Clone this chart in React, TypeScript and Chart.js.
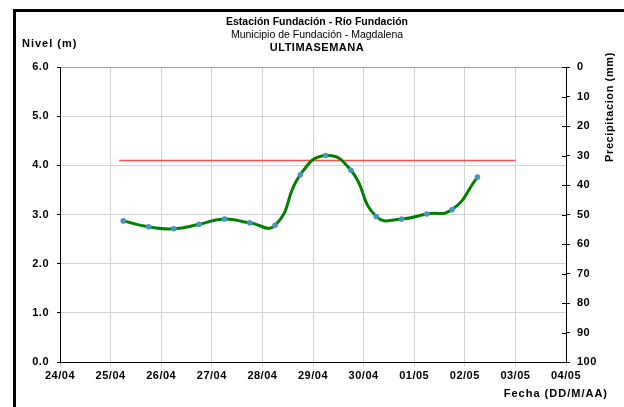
import React, { useEffect, useRef } from "react";
import { Chart, registerables } from "chart.js";

Chart.register(...registerables);

// Day tick labels (x axis = days since 24/04 00:00)
const dayLabels = ["24/04", "25/04", "26/04", "27/04", "28/04", "29/04", "30/04", "01/05", "02/05", "03/05", "04/05"];
// Observation times (days since 24/04 00:00)
const obsTimes = [1.25, 1.75, 2.25, 2.75, 3.25, 3.75, 4.25, 4.75, 5.25, 5.75, 6.25, 6.75, 7.25, 7.75, 8.25];
// River level (m)
const nivel = [2.87, 2.75, 2.71, 2.8, 2.91, 2.83, 2.78, 3.81, 4.2, 3.9, 2.96, 2.91, 3.01, 3.1, 3.76];
// Alert level line
const alertLevel = 4.1;
const alertRange = [1.17, 9.0];
// Precipitation axis range (mm, reversed)
const precipMin = 0;
const precipMax = 100;

const FONT = "'Liberation Sans', Arial, sans-serif";

const spacingPlugin = {
  id: "spacing",
  beforeLayout(chart: any) {
    chart.ctx.letterSpacing = "0.5px";
  },
  beforeDraw(chart: any) {
    chart.ctx.letterSpacing = "0.5px";
  },
};

const decorPlugin = {
  id: "decor",
  afterDraw(chart: any) {
    const ctx = chart.ctx;
    const y1 = chart.scales.y1;
    ctx.save();
    // inner tick marks of precipitation axis
    ctx.strokeStyle = "#000";
    ctx.lineWidth = 1;
    y1.ticks.forEach((t: any) => {
      const yy = Math.round(y1.getPixelForValue(t.value)) + 0.5;
      ctx.beginPath();
      ctx.moveTo(y1.left - 4, yy);
      ctx.lineTo(y1.left, yy);
      ctx.stroke();
    });
    // outer frame
    ctx.lineWidth = 3;
    ctx.strokeRect(14.5, 10.5, 800, 600);
    // texts
    ctx.fillStyle = "#000";
    ctx.textAlign = "center";
    ctx.textBaseline = "middle";
    const cx = 317;
    ctx.letterSpacing = "0px";
    ctx.font = `bold 10.5px ${FONT}`;
    ctx.fillText("Estación Fundación - Río Fundación", cx, 22);
    ctx.font = `10.5px ${FONT}`;
    ctx.fillText("Municipio de Fundación - Magdalena", cx, 35);
    ctx.letterSpacing = "0.5px";
    ctx.font = `bold 11px ${FONT}`;
    ctx.fillText("ULTIMASEMANA", cx, 48);
    ctx.letterSpacing = "1px";
    ctx.textAlign = "left";
    ctx.fillText("Nivel (m)", 22, 44);
    ctx.textAlign = "right";
    ctx.fillText("Fecha (DD/M/AA)", 608, 394);
    ctx.letterSpacing = "0.6px";
    ctx.translate(610, 107);
    ctx.rotate(-Math.PI / 2);
    ctx.textAlign = "center";
    ctx.fillText("Precipitacion (mm)", 0, 0);
    ctx.restore();
  },
};

export default function App() {
  const ref = useRef<HTMLCanvasElement>(null);
  useEffect(() => {
    if (!ref.current) return;
    const tickFont = { family: FONT, size: 11, weight: "bold" as const };
    const chart = new Chart(ref.current, {
      type: "line",
      data: {
        datasets: [
          {
            label: "Nivel",
            data: obsTimes.map((t, i) => ({ x: t, y: nivel[i] })),
            borderColor: "#008000",
            borderWidth: 3,
            backgroundColor: "#4a95c0",
            pointBackgroundColor: "#4a95c0",
            pointBorderWidth: 0,
            pointRadius: 2.8,
            tension: 0.5,
            yAxisID: "y",
          },
          {
            label: "Alerta",
            data: alertRange.map((t) => ({ x: t, y: alertLevel })),
            borderColor: "#ff4d4d",
            borderWidth: 1.5,
            pointRadius: 0,
            tension: 0,
            yAxisID: "y",
          },
        ],
      },
      options: {
        animation: false,
        responsive: false,
        layout: { padding: { left: 0, top: 67, right: 0, bottom: 0 } },
        plugins: { legend: { display: false }, title: { display: false }, tooltip: { enabled: false } },
        scales: {
          x: {
            type: "linear",
            min: 0,
            max: dayLabels.length - 1,
            ticks: {
              stepSize: 1,
              autoSkip: false,
              maxRotation: 0,
              padding: 3,
              color: "#000",
              font: tickFont,
              callback: (v: any) => dayLabels[Math.round(Number(v))] ?? "",
            },
            grid: { color: "#d2d2d2", tickLength: 4, tickColor: "#d2d2d2" },
            border: { color: "#000", width: 1 },
            afterFit: (s: any) => {
              s.height = 407 - 362;
            },
          },
          y: {
            position: "left",
            min: 0,
            max: 6,
            ticks: {
              stepSize: 1,
              padding: 8,
              color: "#000",
              font: tickFont,
              callback: (v: any) => Number(v).toFixed(1),
            },
            grid: {
              color: (c: any) => (c.tick && c.tick.value === 6 ? "#a0a0a0" : "#d2d2d2"),
              tickLength: 3,
              tickColor: "#000",
            },
            border: { color: "#000", width: 1 },
            afterFit: (s: any) => {
              s.width = 60;
            },
          },
          y1: {
            position: "right",
            reverse: true,
            min: precipMin,
            max: precipMax,
            ticks: { stepSize: 10, padding: 7, color: "#000", font: tickFont },
            grid: { drawOnChartArea: false, tickLength: 4, tickColor: "#000" },
            border: { color: "#000", width: 1 },
            afterFit: (s: any) => {
              s.width = 624 - 566;
            },
          },
        },
      },
      plugins: [spacingPlugin, decorPlugin],
    });
    return () => chart.destroy();
  }, []);
  return (
    <div style={{ position: "fixed", left: 0, top: 0, width: 624, height: 407, background: "#fff" }}>
      <canvas ref={ref} width={624} height={407} />
    </div>
  );
}
